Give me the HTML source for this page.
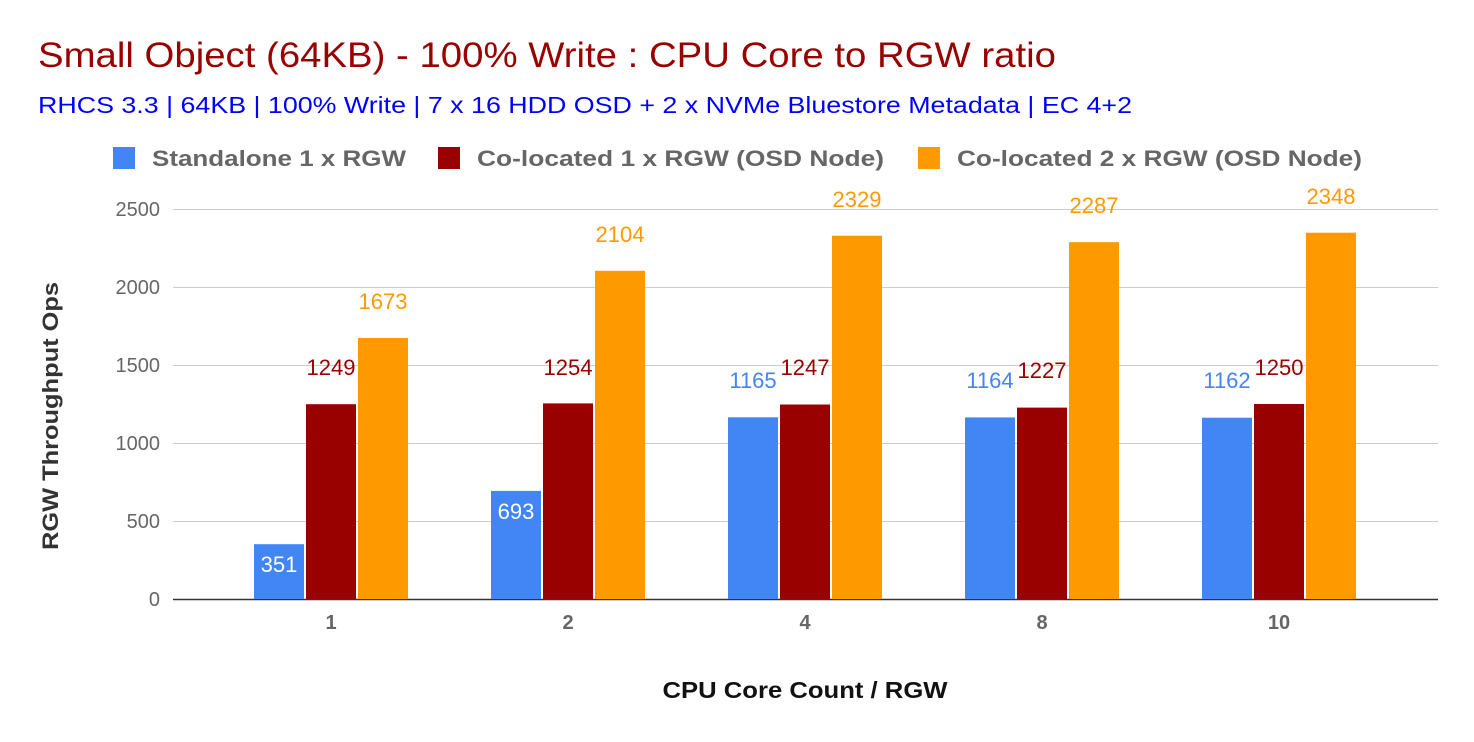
<!DOCTYPE html>
<html><head><meta charset="utf-8"><style>
body{margin:0;background:#fff;}
svg{display:block;font-family:"Liberation Sans",Arial,sans-serif;}
</style></head><body>
<svg width="1474" height="742" viewBox="0 0 1474 742" xmlns="http://www.w3.org/2000/svg">
<rect width="1474" height="742" fill="#fff"/>
<text x="38" y="67" font-size="35" fill="#990000" textLength="1018" lengthAdjust="spacingAndGlyphs">Small Object (64KB) - 100% Write : CPU Core to RGW ratio</text>
<text x="38" y="113" font-size="23" fill="#0000ff" textLength="1094" lengthAdjust="spacingAndGlyphs">RHCS 3.3 | 64KB | 100% Write | 7 x 16 HDD OSD + 2 x NVMe Bluestore Metadata | EC 4+2</text>
<g font-size="22" font-weight="bold" fill="#666">
<rect x="113" y="147" width="22" height="22" fill="#4285f4"/><text x="152" y="166" textLength="254" lengthAdjust="spacingAndGlyphs">Standalone 1 x RGW</text>
<rect x="438" y="147" width="22" height="22" fill="#990000"/><text x="477" y="166" textLength="407" lengthAdjust="spacingAndGlyphs">Co-located 1 x RGW (OSD Node)</text>
<rect x="918" y="147" width="22" height="22" fill="#ff9900"/><text x="957" y="166" textLength="405" lengthAdjust="spacingAndGlyphs">Co-located 2 x RGW (OSD Node)</text>
</g>
<g stroke="#ccc" stroke-width="1">
<line x1="173" x2="1438" y1="209.5" y2="209.5"/><line x1="173" x2="1438" y1="287.5" y2="287.5"/><line x1="173" x2="1438" y1="365.5" y2="365.5"/><line x1="173" x2="1438" y1="443.5" y2="443.5"/><line x1="173" x2="1438" y1="521.5" y2="521.5"/>
</g>
<g font-size="20" fill="#666" text-anchor="end">
<text x="160" y="216">2500</text><text x="160" y="294">2000</text><text x="160" y="372">1500</text><text x="160" y="450">1000</text><text x="160" y="528">500</text><text x="160" y="606">0</text>
</g>
<text transform="translate(58,416) rotate(-90)" font-size="22" font-weight="bold" fill="#333" text-anchor="middle" textLength="268" lengthAdjust="spacingAndGlyphs">RGW Throughput Ops</text>
<line x1="173" x2="1438" y1="599.5" y2="599.5" stroke="#333" stroke-width="1.5"/>
<g font-size="20" font-weight="bold" fill="#666" text-anchor="middle">
<text x="331" y="629">1</text><text x="568" y="629">2</text><text x="805" y="629">4</text><text x="1042" y="629">8</text><text x="1279" y="629">10</text>
</g>
<text x="805" y="698" font-size="23" font-weight="bold" fill="#111" text-anchor="middle" textLength="285" lengthAdjust="spacingAndGlyphs">CPU Core Count / RGW</text>
<g font-size="22" text-anchor="middle">
<rect x="254" y="544.2" width="50" height="54.8" fill="#4285f4"/><rect x="306" y="404.2" width="50" height="194.8" fill="#990000"/><rect x="358" y="338" width="50" height="261" fill="#ff9900"/>
<text x="279" y="572" fill="#fff">351</text><text x="331" y="375" fill="#990000">1249</text><text x="383" y="309" fill="#ff9900">1673</text>
<rect x="491" y="490.9" width="50" height="108.1" fill="#4285f4"/><rect x="543" y="403.4" width="50" height="195.6" fill="#990000"/><rect x="595" y="270.8" width="50" height="328.2" fill="#ff9900"/>
<text x="516" y="519" fill="#fff">693</text><text x="568" y="375" fill="#990000">1254</text><text x="620" y="242" fill="#ff9900">2104</text>
<rect x="728" y="417.3" width="50" height="181.7" fill="#4285f4"/><rect x="780" y="404.5" width="50" height="194.5" fill="#990000"/><rect x="832" y="235.7" width="50" height="363.3" fill="#ff9900"/>
<text x="753" y="388" fill="#4285f4">1165</text><text x="805" y="375" fill="#990000">1247</text><text x="857" y="207" fill="#ff9900">2329</text>
<rect x="965" y="417.4" width="50" height="181.6" fill="#4285f4"/><rect x="1017" y="407.6" width="50" height="191.4" fill="#990000"/><rect x="1069" y="242.2" width="50" height="356.8" fill="#ff9900"/>
<text x="990" y="388" fill="#4285f4">1164</text><text x="1042" y="378" fill="#990000">1227</text><text x="1094" y="213" fill="#ff9900">2287</text>
<rect x="1202" y="417.7" width="50" height="181.3" fill="#4285f4"/><rect x="1254" y="404" width="50" height="195" fill="#990000"/><rect x="1306" y="232.7" width="50" height="366.3" fill="#ff9900"/>
<text x="1227" y="388" fill="#4285f4">1162</text><text x="1279" y="375" fill="#990000">1250</text><text x="1331" y="204" fill="#ff9900">2348</text>
</g>
</svg>
</body></html>
